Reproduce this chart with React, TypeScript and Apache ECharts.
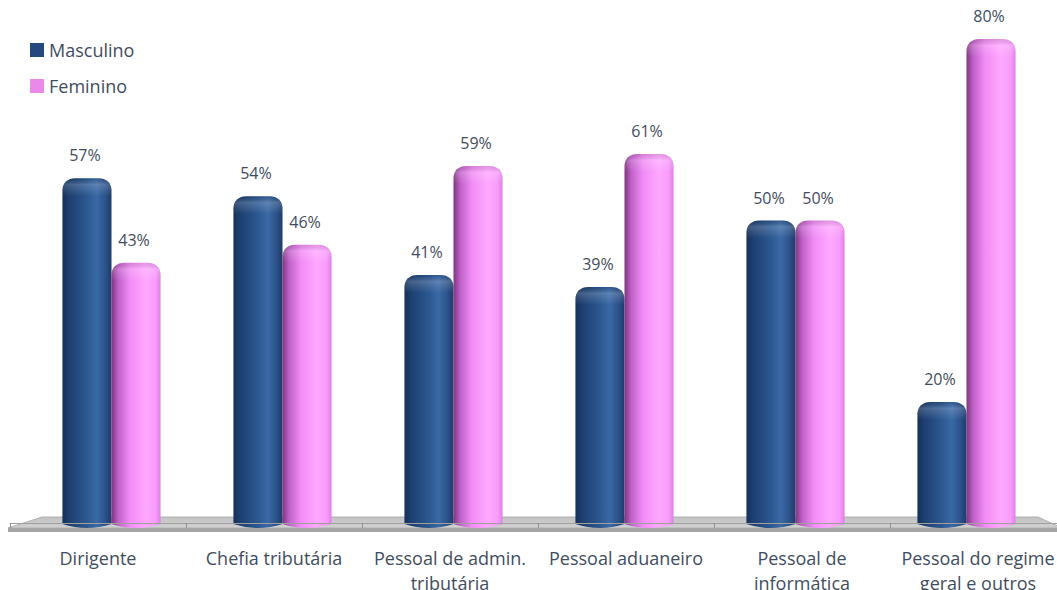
import React, { useEffect, useRef } from "react";
import * as echarts from "echarts";

const categories = [
  "Dirigente",
  "Chefia tributária",
  "Pessoal de admin.\ntributária",
  "Pessoal aduaneiro",
  "Pessoal de\ninformática",
  "Pessoal do regime\ngeral e outros",
];
const masculino = [57, 54, 41, 39, 50, 20];
const feminino = [43, 46, 59, 61, 50, 80];

const FONT = '"Open Sans", "Liberation Sans", sans-serif';
const TEXT = "#3f4d60";

const navyStops = [
  { offset: 0, color: "#15305a" },
  { offset: 0.15, color: "#1e4071" },
  { offset: 0.5, color: "#2c5891" },
  { offset: 0.7, color: "#3a69a5" },
  { offset: 0.88, color: "#2b5189" },
  { offset: 1, color: "#1c3b69" },
];
const pinkStops = [
  { offset: 0, color: "#7d3580" },
  { offset: 0.14, color: "#c062c8" },
  { offset: 0.38, color: "#f28cf6" },
  { offset: 0.7, color: "#ffa8ff" },
  { offset: 0.9, color: "#f79cfa" },
  { offset: 1, color: "#e07ee8" },
];

function makeRender(side: number, stops: any[]) {
  return (params: any, api: any) => {
    const idx = api.value(0);
    const val = api.value(1);
    const top = api.coord([idx, val]);
    const base = api.coord([idx, 0]);
    const band = api.size([1, 0])[0];
    const w = band * 0.287;
    const x0 = side < 0 ? top[0] - w : top[0];
    const x1 = x0 + w;
    const yt = top[1];
    const yb = base[1] + 1;
    const rx = 13;
    const ry = 12;
    const cx = (x0 + x1) / 2;
    const d =
      `M ${x0} ${yb} L ${x0} ${yt + ry} ` +
      `C ${x0} ${yt + ry * 0.4} ${x0 + rx * 0.4} ${yt} ${x0 + rx} ${yt} ` +
      `L ${x1 - rx} ${yt} ` +
      `C ${x1 - rx * 0.4} ${yt} ${x1} ${yt + ry * 0.4} ${x1} ${yt + ry} ` +
      `L ${x1} ${yb} Q ${cx} ${yb + 8} ${x0} ${yb} Z`;
    const cap =
      `M ${x0} ${yt + ry + 6} L ${x0} ${yt + ry} ` +
      `C ${x0} ${yt + ry * 0.4} ${x0 + rx * 0.4} ${yt} ${x0 + rx} ${yt} ` +
      `L ${x1 - rx} ${yt} ` +
      `C ${x1 - rx * 0.4} ${yt} ${x1} ${yt + ry * 0.4} ${x1} ${yt + ry} ` +
      `L ${x1} ${yt + ry + 6} Z`;
    return {
      type: "group",
      children: [
        {
          type: "path",
          shape: { pathData: d },
          style: {
            fill: { type: "linear", x: 0, y: 0, x2: 1, y2: 0, colorStops: stops },
          },
        },
        {
          type: "path",
          shape: { pathData: cap },
          style: {
            fill: {
              type: "linear",
              x: 0,
              y: 0,
              x2: 0,
              y2: 1,
              colorStops: [
                { offset: 0, color: "rgba(0,0,0,0.10)" },
                { offset: 0.35, color: "rgba(255,255,255,0.18)" },
                { offset: 1, color: "rgba(255,255,255,0)" },
              ],
            },
          },
        },
        {
          type: "text",
          style: {
            text: val + "%",
            x: cx - 2,
            y: yt - 15,
            align: "center",
            verticalAlign: "bottom",
            fill: TEXT,
            font: `16px ${FONT}`,
          },
        },
      ],
    };
  };
}

function renderFloor(params: any, api: any) {
  const cs = params.coordSys;
  const fy = cs.y + cs.height + 5;
  const by = fy - 11;
  const lf = cs.x - 2;
  const lb = cs.x + 32;
  const rb = cs.x + cs.width - 28;
  const rf = cs.x + cs.width - 4;
  return {
    type: "group",
    children: [
      {
        type: "polygon",
        shape: { points: [[lf, fy], [lb, by], [rb, by], [rf, fy]] },
        style: {
          fill: {
            type: "linear",
            x: 0,
            y: 0,
            x2: 0,
            y2: 1,
            colorStops: [
              { offset: 0, color: "#c2c2c2" },
              { offset: 1, color: "#d2d2d2" },
            ],
          },
          stroke: "#b0b0b0",
          lineWidth: 1,
        },
      },
      {
        type: "polygon",
        shape: { points: [[lf, fy], [rf, fy], [rf, fy + 4], [lf, fy + 4]] },
        style: { fill: "#a4a4a4" },
      },
    ],
  };
}

export default function App() {
  const ref = useRef<HTMLDivElement>(null);
  useEffect(() => {
    if (!ref.current) return;
    const chart = echarts.init(ref.current, null, { renderer: "svg" });
    chart.setOption({
      animation: false,
      backgroundColor: "#ffffff",
      legend: {
        orient: "vertical",
        left: 25,
        top: 36,
        itemWidth: 14,
        itemHeight: 14,
        itemGap: 18,
        icon: "rect",
        textStyle: { fontSize: 18, color: TEXT, fontFamily: FONT },
        data: [
          { name: "Masculino", itemStyle: { color: "#25497f" } },
          { name: "Feminino", itemStyle: { color: "#e98ae9" } },
        ],
      },
      grid: [
        { left: 10, right: -9, top: 39, bottom: 67, containLabel: false, outerBoundsMode: "none" },
        { left: 26, right: 5, top: 39, bottom: 67, containLabel: false, outerBoundsMode: "none" },
      ],
      xAxis: [
        {
          type: "category",
          gridIndex: 0,
          data: categories,
          offset: 9,
          axisLine: { lineStyle: { color: "#a0a0a0", width: 1 } },
          axisTick: { show: true, length: 5, lineStyle: { color: "#909090" } },
          axisLabel: {
            interval: 0,
            margin: 13,
            fontSize: 18,
            lineHeight: 25,
            color: TEXT,
            fontFamily: FONT,
          },
          z: 3,
        },
        { type: "category", gridIndex: 1, data: categories, show: false },
      ],
      yAxis: [
        { type: "value", gridIndex: 0, min: 0, max: 80, show: false },
        { type: "value", gridIndex: 1, min: 0, max: 80, show: false },
      ],
      series: [
        {
          type: "custom",
          name: "floor",
          xAxisIndex: 0,
          yAxisIndex: 0,
          data: [[0, 0]],
          renderItem: renderFloor,
          z: 1,
          silent: true,
        },
        {
          type: "custom",
          name: "Masculino",
          xAxisIndex: 1,
          yAxisIndex: 1,
          itemStyle: { color: "#25497f" },
          data: masculino.map((v, i) => [i, v]),
          renderItem: makeRender(-1, navyStops),
          z: 2,
        },
        {
          type: "custom",
          name: "Feminino",
          xAxisIndex: 1,
          yAxisIndex: 1,
          itemStyle: { color: "#e98ae9" },
          data: feminino.map((v, i) => [i, v]),
          renderItem: makeRender(1, pinkStops),
          z: 2,
        },
      ],
    });
    return () => chart.dispose();
  }, []);
  return (
    <div
      ref={ref}
      style={{ position: "absolute", left: 0, top: 0, width: 1057, height: 590, background: "#fff" }}
    />
  );
}
